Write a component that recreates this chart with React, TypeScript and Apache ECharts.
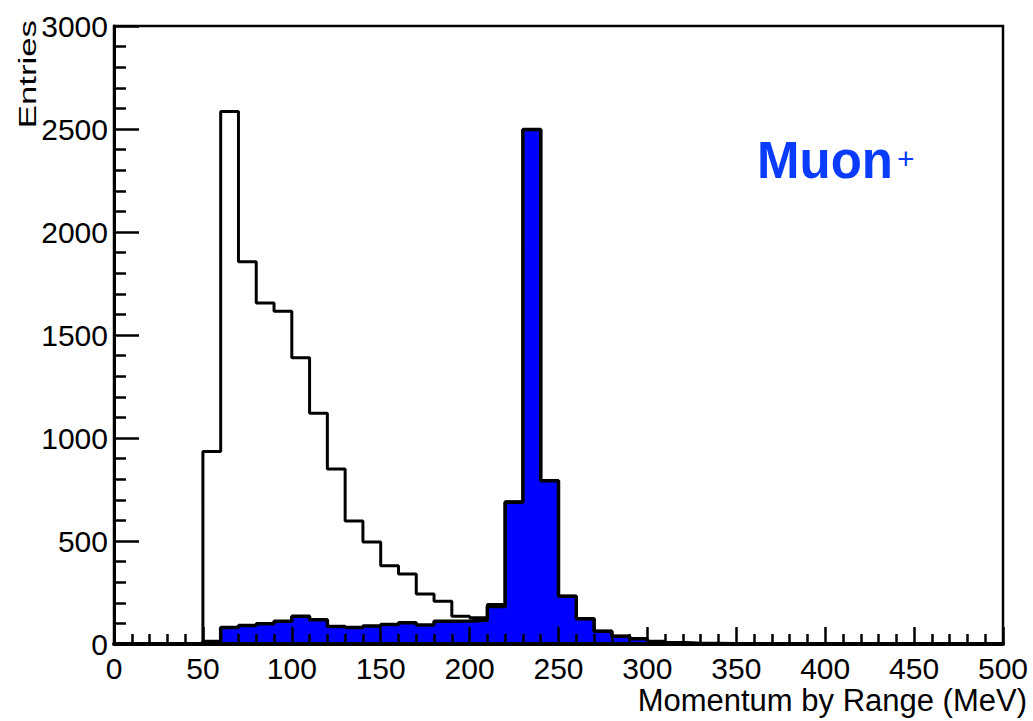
import React, { useEffect, useRef } from "react";
import * as echarts from "echarts";

// Histogram binning (MeV)
const binWidth = 10;
const xMin = 0;
const xMax = 500;
const yMax = 3000;

// Counts per 10 MeV bin, from 0 to 500 MeV
const allEntries = [
  0, 0, 0, 0, 0, 935, 2585, 1855, 1655, 1615,
  1390, 1120, 850, 597, 495, 380, 340, 243, 208, 135,
  127, 192, 690, 2497, 792, 232, 122, 62, 38, 25,
  12, 6, 3, 2, 1, 0, 0, 0, 0, 0,
  0, 0, 0, 0, 0, 0, 0, 0, 0, 0,
];

const muonEntries = [
  0, 0, 0, 0, 0, 12, 80, 90, 98, 110,
  135, 118, 85, 80, 87, 95, 103, 92, 110, 112,
  115, 182, 688, 2497, 792, 232, 122, 62, 38, 25,
  12, 6, 3, 2, 1, 0, 0, 0, 0, 0,
  0, 0, 0, 0, 0, 0, 0, 0, 0, 0,
];

const xTitle = "Momentum by Range (MeV)";
const yTitle = "Entries";
const tagText = "Muon";
const tagCharge = "+";

const FONT = "'Liberation Sans', Arial, Helvetica, sans-serif";

// Turn bin counts into [lowEdge, count] points for a step line
function toSteps(counts: number[]): [number, number][] {
  const pts: [number, number][] = counts.map((c, i) => [xMin + i * binWidth, c]);
  pts.push([xMin + counts.length * binWidth, 0]);
  return pts;
}

const plainNumber = (v: number) => String(v);

export default function App() {
  const ref = useRef<HTMLDivElement>(null);

  useEffect(() => {
    if (!ref.current) return;
    const chart = echarts.init(ref.current, undefined, { renderer: "svg" });

    const axisCommon = {
      type: "value" as const,
      z: 10,
      splitLine: { show: false },
      minorSplitLine: { show: false },
    };

    chart.setOption({
      animation: false,
      backgroundColor: "#ffffff",
      grid: {
        left: 114,
        top: 26,
        width: 889,
        height: 618,
        show: true,
        borderColor: "#000",
        borderWidth: 2.5,
        backgroundColor: "transparent",
        containLabel: false,
        outerBoundsMode: "none",
      },
      xAxis: {
        ...axisCommon,
        min: xMin,
        max: xMax,
        interval: 50,
        axisLine: { show: true, onZero: false, lineStyle: { color: "#000", width: 4 } },
        axisTick: { show: true, inside: true, length: 17, lineStyle: { color: "#000", width: 2.5 } },
        minorTick: { show: true, splitNumber: 5, length: 10, lineStyle: { color: "#000", width: 2.5 } },
        axisLabel: {
          fontSize: 30,
          color: "#000",
          fontFamily: FONT,
          margin: 9,
          showMinLabel: true,
          showMaxLabel: true,
          formatter: plainNumber,
        },
      },
      yAxis: {
        ...axisCommon,
        min: 0,
        max: yMax,
        interval: 500,
        axisLine: { show: true, onZero: false, lineStyle: { color: "#000", width: 3 } },
        axisTick: { show: true, inside: true, length: 25, lineStyle: { color: "#000", width: 2.5 } },
        minorTick: { show: true, splitNumber: 5, length: 12, lineStyle: { color: "#000", width: 2.5 } },
        axisLabel: {
          fontSize: 30,
          color: "#000",
          fontFamily: FONT,
          margin: 6,
          showMinLabel: true,
          showMaxLabel: true,
          formatter: plainNumber,
        },
      },
      series: [
        {
          name: "all",
          type: "line",
          step: "end",
          data: toSteps(allEntries),
          showSymbol: false,
          symbol: "none",
          lineStyle: { color: "#000", width: 3 },
          z: 2,
        },
        {
          name: "muon",
          type: "line",
          step: "end",
          data: toSteps(muonEntries),
          showSymbol: false,
          symbol: "none",
          lineStyle: { color: "#000", width: 3.5 },
          areaStyle: { color: "#0000ff", opacity: 1 },
          z: 3,
        },
      ],
      graphic: [
        {
          type: "text",
          x: 1027,
          y: 700,
          style: {
            text: xTitle,
            fontSize: 31,
            fontFamily: FONT,
            fill: "#000",
            align: "right",
            verticalAlign: "middle",
          },
        },
        {
          type: "text",
          x: 40,
          y: 20,
          rotation: Math.PI / 2,
          scaleX: 1.45,
          style: {
            text: yTitle,
            fontSize: 24,
            fontFamily: FONT,
            fill: "#000",
            align: "right",
            verticalAlign: "bottom",
          },
        },
        {
          type: "text",
          x: 757,
          y: 160,
          style: {
            text: tagText,
            fontSize: 51,
            fontWeight: "bold",
            fontFamily: FONT,
            fill: "#0a3cff",
            align: "left",
            verticalAlign: "middle",
          },
        },
        {
          type: "text",
          x: 897,
          y: 158,
          style: {
            text: tagCharge,
            fontSize: 30,
            fontFamily: FONT,
            fill: "#0a3cff",
            align: "left",
            verticalAlign: "middle",
          },
        },
      ],
    });

    return () => chart.dispose();
  }, []);

  return (
    <div
      ref={ref}
      style={{ position: "fixed", left: 0, top: 0, width: 1033, height: 721 }}
    />
  );
}
